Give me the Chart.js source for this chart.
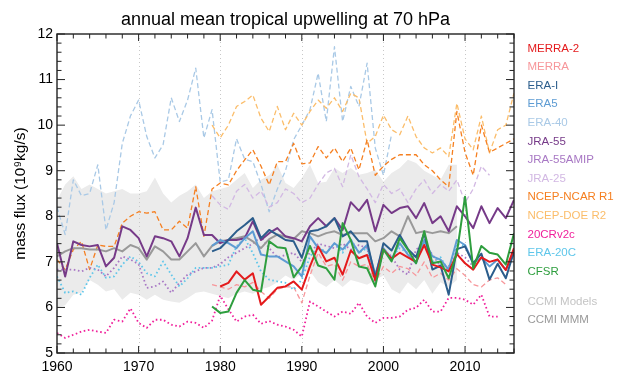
<!DOCTYPE html>
<html>
<head>
<meta charset="utf-8">
<script src="https://cdn.jsdelivr.net/npm/chart.js@4"></script>
<style>
  html, body { margin: 0; padding: 0; background: #fff; }
  canvas { display: block; }
</style>
</head>
<body>
<canvas id="upwelling" width="631" height="374"></canvas>
<script>
const FONT = "'Liberation Sans', Arial, sans-serif";

const yearTicks = [1960, 1970, 1980, 1990, 2000, 2010];
const fluxTicks = [5, 6, 7, 8, 9, 10, 11, 12];

// annual means, 10^9 kg/s, one value per year from the start year
const merra2 = [
  6.46, 6.54, 6.79, 6.61, 6.75, 6.06, 6.24, 6.43, 6.46, 6.57,
  6.39, 6.90, 7.34, 7.01, 7.09, 6.72, 7.25, 7.08, 7.15, 6.60,
  7.27, 7.07, 7.20, 7.10, 7.00, 7.37, 6.94, 6.88, 6.79, 7.17,
  6.97, 6.83, 7.10, 7.00, 7.05, 6.82, 7.30];                 // 1980-2016
const merra = [
  6.50, 6.45, 6.40, 6.50, 6.45, 6.55, 6.35, 6.20, 6.40, 6.45, 6.45,
  6.10, 6.70, 7.20, 6.90, 6.95, 6.60, 7.00, 6.90, 6.95, 6.55,
  6.90, 6.75, 6.90, 6.85, 6.70, 7.00, 6.65, 6.75, 6.60, 6.85,
  6.70, 6.50, 6.45, 6.60, 6.65, 6.50];                       // 1979-2015
const eraI = [
  7.23, 7.30, 7.48, 7.67, 7.81, 7.96, 7.52, 7.70, 7.59, 7.48, 7.45,
  7.09, 7.67, 7.70, 7.78, 7.96, 7.56, 7.67, 7.45, 7.45, 6.65,
  7.41, 7.25, 7.59, 7.28, 7.10, 7.63, 6.83, 6.92, 6.28, 7.28,
  7.34, 6.97, 7.18, 6.61, 6.96, 6.64, 7.23];                 // 1979-2016
const era5 = [
  7.35, 7.48, 7.41, 7.30, 7.52, 7.67, 7.16, 7.12, 7.12, 7.01, 6.90,
  6.68, 7.56, 7.30, 7.19, 7.41, 7.27, 7.48, 7.20, 7.37, 6.72,
  7.30, 7.05, 7.41, 7.16, 6.97, 7.48, 7.12, 7.05, 6.83, 7.48,
  7.37, 6.97, 7.09, 6.90, 7.05, 6.83, 7.19];                 // 1979-2016
const era40 = [
  8.20, 7.60, 8.80, 8.45, 8.50, 9.13, 7.70, 8.30, 9.60, 10.20,
  10.55, 9.75, 9.28, 9.57, 10.60, 10.08, 10.55, 11.25, 9.72, 10.34,
  8.75, 8.80, 9.70, 9.25, 9.20, 8.70, 8.10, 8.60, 9.00, 9.68,
  10.00, 10.34, 11.14, 10.08, 11.72, 10.08, 10.85, 10.41, 11.36, 9.50,
  8.90, 9.80];                                               // 1960-2001
const jra55 = [
  7.41, 6.68, 7.45, 7.37, 7.34, 7.37, 6.90, 7.09, 7.78, 7.70,
  7.52, 7.12, 7.56, 7.52, 7.45, 7.12, 7.52, 8.19, 7.59, 7.59,
  7.41, 7.48, 7.48, 7.52, 7.89, 7.48, 7.63, 7.74, 7.56, 7.52,
  7.45, 7.78, 7.96, 7.78, 7.96, 7.70, 8.31, 8.12, 8.36, 7.67,
  8.25, 8.07, 8.18, 8.22, 7.96, 8.29, 7.85, 8.00, 7.67, 8.22,
  8.00, 7.74, 8.22, 7.85, 8.18, 7.96, 8.36];                 // 1960-2016
const jra55amip = [
  6.83, 6.83, 6.83, 6.79, 6.87, 6.83, 6.68, 6.87, 7.12, 7.05,
  6.95, 6.43, 6.46, 6.57, 6.32, 6.54, 6.72, 6.79, 6.87, 6.87,
  6.95, 7.10, 7.20, 7.30, 7.40, 7.55, 7.30, 7.10, 7.15, 7.20,
  7.00, 7.20, 7.40, 7.35, 7.30, 7.40, 7.27, 7.37, 7.30, 6.54,
  7.27, 7.12, 6.83, 6.72, 7.27, 7.41, 7.16, 6.90, 6.90, 7.20,
  7.10, 6.90];                                               // 1960-2011
const jra25 = [
  8.45, 8.25, 8.15, 8.55, 8.70, 8.40, 8.55, 8.20, 8.30, 8.60, 8.50,
  8.30, 8.40, 8.70, 8.95, 9.05, 8.65, 9.35, 8.87, 8.60, 8.30,
  8.70, 8.50, 8.60, 8.30, 8.60, 8.80, 8.50, 8.70, 8.55, 8.80,
  8.30, 8.60, 9.10, 8.90];                                   // 1979-2013
const ncepR1 = [
  7.05, 6.83, 7.27, 7.45, 6.83, 7.37, 7.34, 7.34, 7.85, 8.00,
  8.10, 8.07, 8.10, 7.70, 7.70, 7.89, 7.74, 8.65, 7.56, 8.60,
  8.73, 8.69, 9.00, 9.24, 9.46, 9.10, 8.69, 9.20, 9.20, 9.60,
  9.15, 9.17, 9.53, 9.28, 9.50, 9.20, 9.50, 9.02, 9.68, 8.90,
  9.10, 9.25, 9.35, 9.35, 9.35, 9.13, 9.00, 8.80, 8.65, 10.30,
  9.40, 8.90, 10.00, 9.40, 9.50, 9.60, 9.70];                // 1960-2016
const ncepR2 = [
  10.00, 9.72, 10.00, 10.41, 10.52, 10.66, 10.15, 9.86, 10.41, 9.90, 10.26,
  10.00, 10.30, 10.55, 10.37, 10.60, 10.30, 10.70, 10.60, 9.60, 9.75,
  10.22, 9.90, 9.79, 10.20, 9.75, 9.50, 9.39, 9.50, 9.31, 10.48,
  9.70, 9.46, 10.20, 9.39, 9.90, 10.00, 10.70];             // 1979-2016
const cr20v2c = [
  5.44, 5.33, 5.40, 5.47, 5.51, 5.47, 5.44, 5.73, 5.69, 5.98,
  5.66, 5.55, 5.73, 5.73, 5.62, 5.58, 5.69, 5.66, 5.55, 5.71,
  6.26, 5.96, 5.69, 5.80, 5.84, 5.64, 5.70, 5.62, 5.58, 5.51,
  5.36, 6.13, 6.02, 5.91, 5.80, 5.91, 5.86, 6.10, 5.80, 5.66,
  5.77, 5.77, 5.80, 5.95, 5.99, 6.17, 5.91, 5.91, 6.21, 6.21,
  6.17, 6.06, 6.28, 5.80, 5.80];                             // 1960-2014
const era20c = [
  6.68, 6.32, 6.35, 6.28, 6.65, 6.94, 6.65, 6.68, 6.94, 7.12,
  7.00, 6.75, 6.68, 7.01, 6.72, 6.46, 6.64, 6.87, 6.87, 6.87,
  6.90, 6.94, 7.34, 7.52, 7.19, 6.79, 6.61, 6.57, 6.54, 6.39,
  6.61, 7.12, 7.34, 7.20, 7.40, 7.20, 7.50, 7.20, 7.30, 6.70,
  7.30, 7.10, 7.30, 7.20, 7.00, 7.40, 7.00, 7.10, 6.80, 7.40,
  7.35];                                                     // 1960-2010
const cfsr = [
  6.02, 5.88, 5.91, 6.32, 6.60, 6.39, 6.35, 7.45, 7.32, 7.30, 6.66,
  6.90, 7.35, 6.92, 6.86, 6.61, 7.85, 7.48, 6.90, 6.86, 6.46,
  7.27, 7.01, 7.52, 7.27, 6.97, 7.67, 6.97, 7.01, 6.64, 7.20,
  8.43, 6.86, 7.35, 7.20, 7.16, 6.94, 7.63];                 // 1979-2016
const ccmiMmm = [
  7.12, 7.23, 7.30, 7.30, 7.27, 7.27, 7.23, 7.30, 7.23, 7.37,
  7.30, 7.05, 7.34, 7.23, 7.05, 7.05, 7.23, 7.41, 7.12, 7.35,
  7.45, 7.48, 7.52, 7.56, 7.45, 7.30, 7.50, 7.60, 7.55, 7.50,
  7.67, 7.63, 7.56, 7.63, 7.67, 7.59, 7.63, 7.63, 7.63, 7.45,
  7.52, 7.67, 7.56, 8.00, 7.63, 7.67, 7.63, 7.67, 7.63, 7.78]; // 1960-2009
const ccmiMax = [
  8.35, 8.70, 8.88, 8.60, 8.70, 8.60, 8.50, 8.55, 8.60, 8.50,
  8.50, 8.55, 8.85, 8.50, 8.30, 8.45, 8.55, 8.70, 8.40, 8.55,
  8.60, 8.65, 8.80, 8.95, 8.62, 8.80, 8.90, 9.13, 8.73, 8.62,
  8.84, 9.13, 8.73, 8.76, 9.06, 8.95, 9.06, 8.91, 8.95, 9.02,
  8.76, 8.95, 9.06, 9.24, 9.17, 9.00, 8.90, 8.80, 9.13, 9.13]; // 1960-2009
const ccmiMin = [
  6.00, 6.05, 6.28, 6.32, 6.60, 6.50, 6.35, 6.40, 6.17, 6.32,
  6.28, 6.17, 6.28, 6.17, 6.13, 6.10, 6.20, 6.32, 6.35, 6.30,
  6.25, 6.20, 6.30, 6.35, 6.30, 6.40, 6.45, 6.55, 6.70, 6.60,
  6.75, 6.80, 6.55, 6.45, 6.60, 6.45, 6.60, 6.55, 6.50, 6.60,
  6.70, 6.40, 6.30, 6.55, 6.40, 6.60, 6.30, 6.55, 6.45, 6.60]; // 1960-2009

const lineStyles = {
  solid:  { dash: [],       width: 2.0 },
  dashed: { dash: [5, 3],   width: 1.3 },
  dotted: { dash: [1.6, 2.6], width: 1.8 }
};

// drawing order: first entry ends up on top
const products = [
  { label: "CFSR",         start: 1979, values: cfsr,      color: "#2e9e3e", style: "solid" },
  { label: "MERRA-2",      start: 1980, values: merra2,    color: "#e41a1c", style: "solid" },
  { label: "ERA-I",        start: 1979, values: eraI,      color: "#2b5d8c", style: "solid" },
  { label: "ERA5",         start: 1979, values: era5,      color: "#5e9cd3", style: "solid" },
  { label: "JRA-55",       start: 1960, values: jra55,     color: "#763a88", style: "solid" },
  { label: "CCMI MMM",     start: 1960, values: ccmiMmm,   color: "#999999", style: "solid" },
  { label: "ERA-20C",      start: 1960, values: era20c,    color: "#5ec6ea", style: "dotted" },
  { label: "JRA-55AMIP",   start: 1960, values: jra55amip, color: "#a878c4", style: "dotted" },
  { label: "20CRv2c",      start: 1960, values: cr20v2c,   color: "#f0209b", style: "dotted" },
  { label: "MERRA",        start: 1979, values: merra,     color: "#f7969a", style: "dashed" },
  { label: "NCEP-NCAR R1", start: 1960, values: ncepR1,    color: "#f57f20", style: "dashed" },
  { label: "NCEP-DOE R2",  start: 1979, values: ncepR2,    color: "#fbbd6a", style: "dashed" },
  { label: "JRA-25",       start: 1979, values: jra25,     color: "#d2b8e3", style: "dashed" },
  { label: "ERA-40",       start: 1960, values: era40,     color: "#a9c9e6", style: "dashed" }
];

const legendOrder = [
  "MERRA-2", "MERRA", "ERA-I", "ERA5", "ERA-40", "JRA-55", "JRA-55AMIP", "JRA-25",
  "NCEP-NCAR R1", "NCEP-DOE R2", "20CRv2c", "ERA-20C", "CFSR"
];

function toPoints(start, values) {
  return values.map((v, i) => ({ x: start + i, y: v }));
}

const datasets = products.map(p => ({
  label: p.label,
  data: toPoints(p.start, p.values),
  borderColor: p.color,
  borderWidth: lineStyles[p.style].width,
  borderDash: lineStyles[p.style].dash,
  borderCapStyle: "butt",
  borderJoinStyle: "round",
  pointRadius: 0,
  tension: 0,
  fill: false
}));

// CCMI model spread, drawn first (last in list)
datasets.push({
  label: "CCMI Models",
  data: toPoints(1960, ccmiMax),
  borderWidth: 0,
  borderColor: "rgba(0,0,0,0)",
  backgroundColor: "#ebebeb",
  pointRadius: 0,
  tension: 0,
  fill: "+1"
});
datasets.push({
  label: "CCMI min",
  data: toPoints(1960, ccmiMin),
  borderWidth: 0,
  borderColor: "rgba(0,0,0,0)",
  pointRadius: 0,
  tension: 0,
  fill: false
});
const BAND_INDEX = datasets.length - 2;

// decade grid lines over the grey band, under the curves
const decadeGrid = {
  id: "decadeGrid",
  afterDatasetDraw(chart, args) {
    if (args.index !== BAND_INDEX) return;
    const { ctx, chartArea } = chart;
    const xs = chart.scales.x;
    ctx.save();
    ctx.strokeStyle = "#c8c8c8";
    ctx.lineWidth = 1;
    ctx.setLineDash([1, 3]);
    yearTicks.slice(1).forEach(yr => {
      const px = Math.round(xs.getPixelForValue(yr)) + 0.5;
      ctx.beginPath();
      ctx.moveTo(px, chartArea.top);
      ctx.lineTo(px, chartArea.bottom);
      ctx.stroke();
    });
    ctx.restore();
  }
};

// box around the plot with inward ticks on all four sides
const frame = {
  id: "frame",
  afterDatasetsDraw(chart) {
    const { ctx, chartArea: a } = chart;
    const xs = chart.scales.x, ys = chart.scales.y;
    ctx.save();
    ctx.strokeStyle = "#222";
    ctx.lineWidth = 1.4;
    ctx.setLineDash([]);
    ctx.strokeRect(a.left, a.top, a.right - a.left, a.bottom - a.top);
    ctx.lineWidth = 1;
    for (let yr = 1960; yr <= 2016; yr += 2) {
      const px = xs.getPixelForValue(yr);
      const len = yr % 10 === 0 ? 7 : 4.5;
      ctx.beginPath();
      ctx.moveTo(px, a.bottom); ctx.lineTo(px, a.bottom - len);
      ctx.moveTo(px, a.top); ctx.lineTo(px, a.top + len);
      ctx.stroke();
    }
    for (let k = 0; k <= 35; k++) {
      const v = 5 + k * 0.2;
      const py = ys.getPixelForValue(v);
      const len = k % 5 === 0 ? 8 : 4.5;
      ctx.beginPath();
      ctx.moveTo(a.left, py); ctx.lineTo(a.left + len, py);
      ctx.moveTo(a.right, py); ctx.lineTo(a.right - len, py);
      ctx.stroke();
    }
    ctx.restore();
  }
};

// title, axis label and the coloured name list on the right
const annotations = {
  id: "annotations",
  afterDraw(chart) {
    const { ctx, chartArea: a } = chart;
    ctx.save();
    ctx.fillStyle = "#000";
    ctx.font = "18px " + FONT;
    ctx.textAlign = "center";
    ctx.textBaseline = "alphabetic";
    ctx.fillText("annual mean tropical upwelling at 70 hPa", (a.left + a.right) / 2, 25);

    ctx.font = "15.5px " + FONT;
    ctx.translate(21, (a.top + a.bottom) / 2);
    ctx.rotate(-Math.PI / 2);
    ctx.textBaseline = "middle";
    ctx.fillText("mass flux (10\u2079kg/s)", 0, 0);
    ctx.restore();

    ctx.save();
    ctx.font = "11.5px " + FONT;
    ctx.textAlign = "left";
    ctx.textBaseline = "middle";
    const x0 = 527.5, y0 = 48.5, step = 18.6;
    legendOrder.forEach((name, i) => {
      const p = products.find(q => q.label === name);
      ctx.fillStyle = p.color;
      ctx.fillText(name, x0, y0 + i * step);
    });
    ctx.fillStyle = "#c4c4c4";
    ctx.fillText("CCMI Models", x0, y0 + 13.6 * step);
    ctx.fillStyle = "#999999";
    ctx.fillText("CCMI MMM", x0, y0 + 14.6 * step);
    ctx.restore();
  }
};

new Chart(document.getElementById("upwelling"), {
  type: "line",
  data: { datasets },
  options: {
    responsive: false,
    animation: false,
    devicePixelRatio: 1,
    layout: { padding: { top: 34, right: 117, left: 0, bottom: 0 } },
    plugins: {
      legend: { display: false },
      tooltip: { enabled: false },
      filler: { propagate: false }
    },
    scales: {
      x: {
        type: "linear",
        min: 1960,
        max: 2016,
        grid: { display: false, drawTicks: false },
        border: { display: false },
        afterBuildTicks: scale => { scale.ticks = yearTicks.map(v => ({ value: v })); },
        afterFit: scale => { scale.height = 21; },
        ticks: {
          padding: 6,
          color: "#000",
          font: { family: FONT, size: 14 },
          maxRotation: 0,
          callback: v => String(v)
        }
      },
      y: {
        type: "linear",
        min: 5,
        max: 12,
        grid: { display: false, drawTicks: false },
        border: { display: false },
        afterBuildTicks: scale => { scale.ticks = fluxTicks.map(v => ({ value: v })); },
        afterFit: scale => { scale.width = 57; },
        ticks: {
          padding: 4,
          color: "#000",
          font: { family: FONT, size: 14 },
          callback: v => String(v)
        }
      }
    }
  },
  plugins: [decadeGrid, frame, annotations]
});
</script>
</body>
</html>
